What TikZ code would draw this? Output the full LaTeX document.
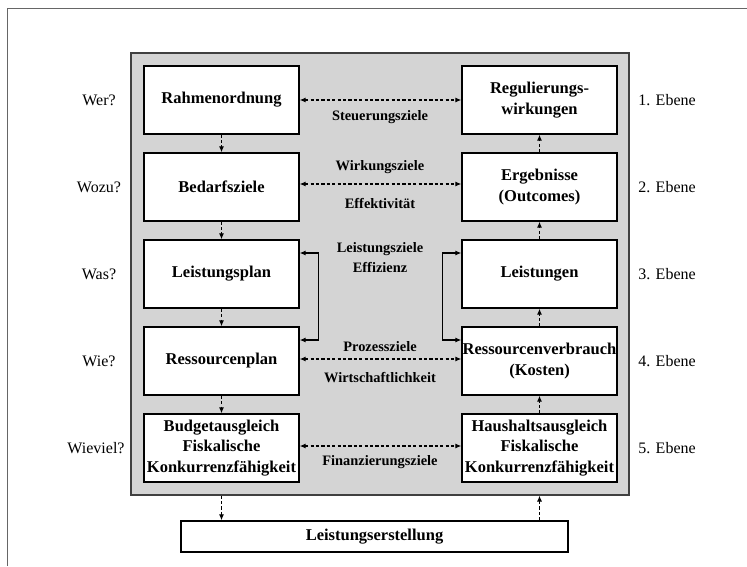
\documentclass[tikz,border=0pt]{standalone}
\usepackage{fontspec}
\setmainfont{Liberation Serif}
\usetikzlibrary{arrows.meta}

\tikzset{
  box/.style={draw, fill=white, line width=0.7pt, minimum width=77.5pt, minimum height=34pt,
    inner xsep=0pt, inner ysep=1pt, align=center, font=\fontsize{8.25}{10.2}\selectfont\bfseries},
  panel/.style={draw=black!75, fill=black!17, line width=0.6pt, inner sep=0pt},
  ziel/.style={inner sep=0pt, font=\fontsize{7.2}{8.6}\selectfont\bfseries},
  frage/.style={inner sep=0pt, font=\fontsize{8}{9.6}\selectfont},
  flow/.style={line width=0.6pt, dash pattern=on 1.6pt off 1.1pt, -{Latex[length=3pt,width=2.6pt]}},
  both/.style={line width=0.6pt, dash pattern=on 1.6pt off 1.1pt, {Latex[length=3pt,width=2.6pt]}-{Latex[length=3pt,width=2.6pt]}},
  bracket/.style={line width=0.7pt, {Latex[length=3pt,width=2.6pt]}-{Latex[length=3pt,width=2.6pt]}}
}

\begin{document}
\begin{tikzpicture}[x=0.5pt, y=-0.5pt]
\useasboundingbox (0,0) rectangle (747,566);
\draw [black!60, line width=0.5pt] (7,566) -- (7,9) -- (747,9);

\node [panel, minimum width=249pt, minimum height=221pt] (panel) at (380,274) {};

% linke Spalte
\node [box] (rahmen) at (221.5,100) {Rahmenordnung};
\node [box] (bedarf) at (221.5,187) {Bedarfsziele};
\node [box] (lplan) at (221.5,274) {Leistungsplan};
\node [box] (rplan) at (221.5,361) {Ressourcenplan};
\node [box] (budget) at (221.5,448) {Budgetausgleich\\Fiskalische\\Konkurrenzfähigkeit};

% rechte Spalte
\node [box] (regul) at (539.5,100) {Regulierungs-\\wirkungen};
\node [box] (ergeb) at (539.5,187) {Ergebnisse\\(Outcomes)};
\node [box] (leist) at (539.5,274) {Leistungen};
\node [box] (rverb) at (539.5,361) {Ressourcenverbrauch\\(Kosten)};
\node [box] (haush) at (539.5,448) {Haushaltsausgleich\\Fiskalische\\Konkurrenzfähigkeit};

\node [box, minimum width=193.5pt, minimum height=15.5pt] (erst) at (374.5,536.5) {Leistungserstellung};

% Fragen und Ebenen
\node [frage] (q1) at (99,100) {Wer?};
\node [frage] (q2) at (99,187) {Wozu?};
\node [frage] (q3) at (99,274) {Was?};
\node [frage] (q4) at (99,361) {Wie?};
\node [frage] (q5) at (96,448) {Wieviel?};
\node [frage, anchor=west] (e1) at (638,100) {1. Ebene};
\node [frage, anchor=west] (e2) at (638,187) {2. Ebene};
\node [frage, anchor=west] (e3) at (638,274) {3. Ebene};
\node [frage, anchor=west] (e4) at (638,361) {4. Ebene};
\node [frage, anchor=west] (e5) at (638,448) {5. Ebene};

% Ziele
\node [ziel] (z1) at (380,117) {Steuerungsziele};
\node [ziel] (z2) at (380,167) {Wirkungsziele};
\node [ziel] (z2b) at (380,204) {Effektivität};
\node [ziel] (z3) at (380,249) {Leistungsziele};
\node [ziel] (z3b) at (380,267) {Effizienz};
\node [ziel] (z4) at (380,347) {Prozessziele};
\node [ziel] (z4b) at (380,378) {Wirtschaftlichkeit};
\node [ziel] (z5) at (380,462) {Finanzierungsziele};

\draw [both] (rahmen.east) -- (regul.west);
\draw [both] ([yshift=1.5pt]bedarf.east) -- ([yshift=1.5pt]ergeb.west);
\draw [both] ([yshift=1pt]rplan.east) -- ([yshift=1pt]rverb.west);
\draw [both] ([yshift=1pt]budget.east) -- ([yshift=1pt]haush.west);

\draw [flow] (rahmen) -- (bedarf);
\draw [flow] (bedarf) -- (lplan);
\draw [flow] (lplan) -- (rplan);
\draw [flow] (rplan) -- (budget);
\draw [flow] (haush) -- (rverb);
\draw [flow] (rverb) -- (leist);
\draw [flow] (leist) -- (ergeb);
\draw [flow] (ergeb) -- (regul);

\draw [flow] (budget.south |- panel.south) -- (budget.south |- erst.north);
\draw [flow] (haush.south |- erst.north) -- (haush.south |- panel.south);

\draw [bracket] ([yshift=10.5pt]lplan.east) -- ++(9.5pt,0) |- ([yshift=10.5pt]rplan.east);
\draw [bracket] ([yshift=10.5pt]leist.west) -- ++(-9.5pt,0) |- ([yshift=10.5pt]rverb.west);
\end{tikzpicture}
\end{document}
